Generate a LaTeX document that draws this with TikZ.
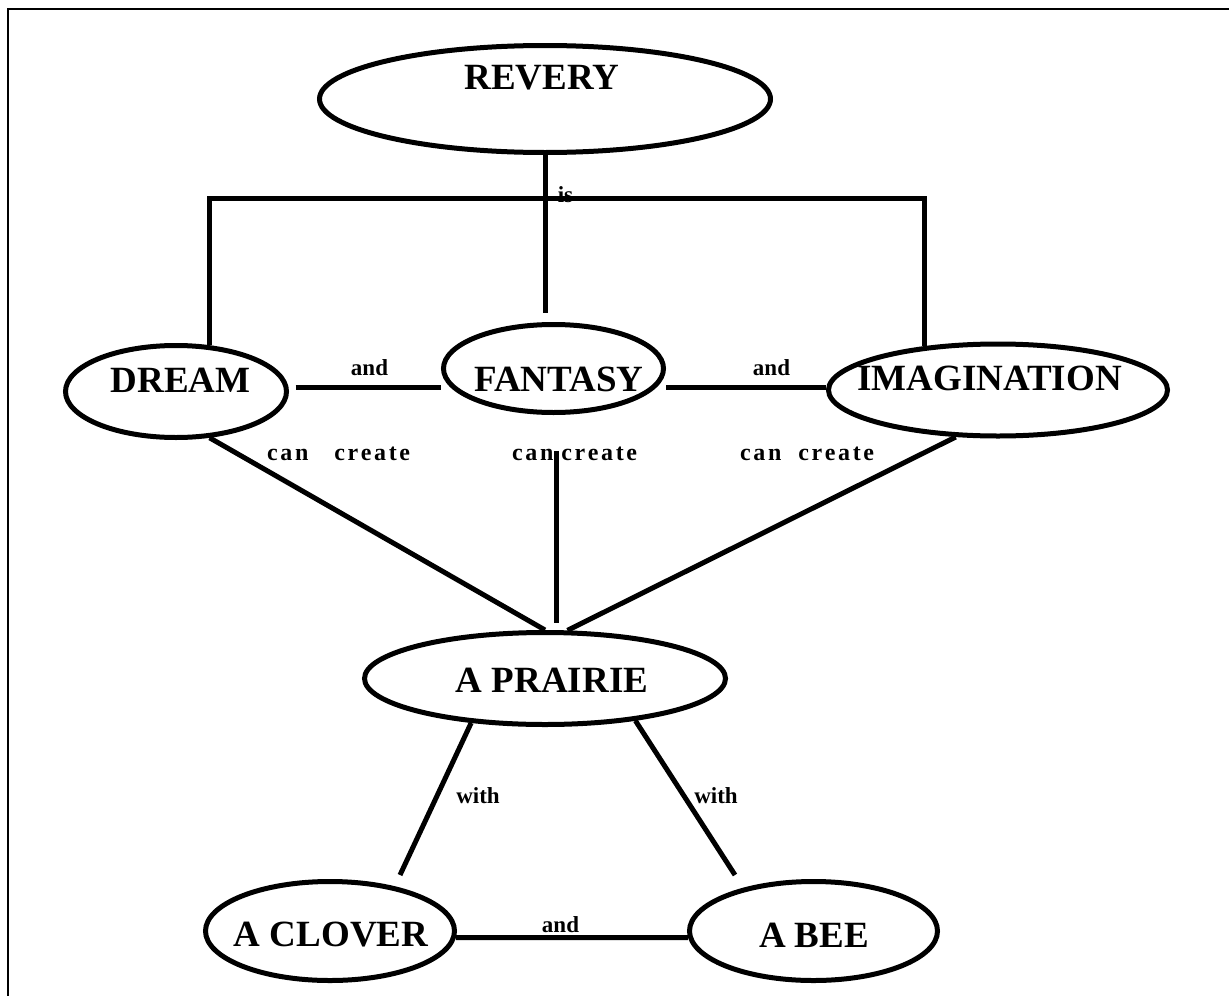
\documentclass[tikz,border=0pt]{standalone}
\usepackage{fontspec}
\setmainfont{Liberation Serif}
\usetikzlibrary{shapes.geometric}
% extra tracking between letters of the "can create" labels
\newcommand\lsp{\kern2.6pt}
\begin{document}
\begin{tikzpicture}[x=1pt,y=-1pt,
  bubble/.style={ellipse, draw, line width=5pt, inner sep=0pt},
  link/.style={line width=5pt},
  big/.style={font=\fontsize{37}{40}\selectfont\bfseries, inner sep=0pt},
  small/.style={font=\fontsize{23}{26}\selectfont\bfseries, inner sep=0pt},
  frame/.style={line width=2.3pt}
]
\useasboundingbox (0,0) rectangle (1229,996);
\draw[frame] (7.8,996) -- (7.8,9) -- (1229,9);

% concepts
\node[bubble, minimum width=451pt, minimum height=107pt,
      label={[big,xshift=-3pt,yshift=21.5pt]center:REVERY}] (revery) at (545,99) {};
\node[bubble, minimum width=221pt, minimum height=92pt,
      label={[big,xshift=4.5pt,yshift=11.5pt]center:DREAM}] (dream) at (176,391.5) {};
\node[bubble, minimum width=220pt, minimum height=88pt,
      label={[big,xshift=5.5pt,yshift=-10.5pt]center:FANTASY}] (fantasy) at (553.5,368.5) {};
\node[bubble, minimum width=339pt, minimum height=92pt,
      label={[big,xshift=-8.5pt,yshift=12pt]center:IMAGINATION}] (imag) at (998,390) {};
\node[bubble, minimum width=361pt, minimum height=92pt,
      label={[big,xshift=7pt,yshift=-1.5pt]center:A PRAIRIE}] (prairie) at (545,678.5) {};
\node[bubble, minimum width=249pt, minimum height=99pt,
      label={[big,xshift=1pt,yshift=-4pt]center:A CLOVER}] (clover) at (330,931) {};
\node[bubble, minimum width=248pt, minimum height=99pt,
      label={[big,xshift=0.5pt,yshift=-4pt]center:A BEE}] (bee) at (813.5,931) {};

% "is" bracket
\coordinate (bar) at (545,198);
\draw[link] (dream.54) |- (bar) -| (imag.149);
\draw[link, shorten >=9pt] (revery.south) -- (revery.south |- fantasy.north);
\node[small] (is) at (565.5,195) {is};

% "and" links
\draw[link, shorten <=7pt] (dream.2) -- (dream.2 -| fantasy.west);
\draw[link] (imag.179.3) -- (imag.179.3 -| fantasy.east);
\node[small] (and1) at (369.5,368) {and};
\node[small] (and2) at (771.5,368) {and};

% "can create" links
\draw[link] (dream.-54) -- (prairie.north);
\draw[link] (imag.-132) -- (prairie.65);
\draw[link, shorten <=36pt, shorten >=7pt] (fantasy.-86) -- (fantasy.-86 |- prairie.north);
\node[small, font=\fontsize{24}{26}\selectfont\bfseries, anchor=west] (cc1) at (267,454)
  {c\lsp a\lsp n\hspace{26pt}c\lsp r\lsp e\lsp a\lsp t\lsp e};
\node[small, font=\fontsize{24}{26}\selectfont\bfseries, anchor=west] (cc2) at (512,454)
  {c\lsp a\lsp n\hspace{8pt}c\lsp r\lsp e\lsp a\lsp t\lsp e};
\node[small, font=\fontsize{24}{26}\selectfont\bfseries, anchor=west] (cc3) at (740,454)
  {c\lsp a\lsp n\hspace{17pt}c\lsp r\lsp e\lsp a\lsp t\lsp e};

% "with" links
\coordinate (w1) at (400,875);
\coordinate (w2) at (735,875);
\draw[link] (prairie.211) -- (w1);
\draw[link] (prairie.-25.5) -- (w2);
\node[small] (with1) at (478,795.5) {with};
\node[small] (with2) at (716,795.5) {with};

% clover and bee
\draw[link] (clover.-3.7) -- (bee.183.7);
\node[small] (and3) at (560.5,925) {and};
\end{tikzpicture}
\end{document}
